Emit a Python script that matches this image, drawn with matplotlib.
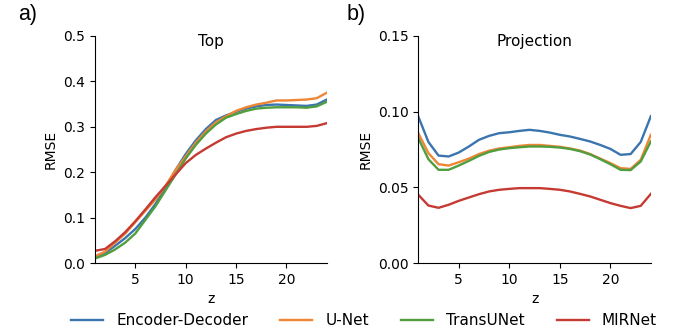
import matplotlib
matplotlib.use("Agg")
import matplotlib.pyplot as plt
import numpy as np

z = np.arange(1, 25)
models = ["Encoder-Decoder", "U-Net", "TransUNet", "MIRNet"]
colors = ["#3b75af", "#ef8636", "#519e3e", "#c53a32"]

# Top panel RMSE per z
top_enc = [0.012, 0.022, 0.038, 0.055, 0.075, 0.100, 0.130, 0.165, 0.205, 0.240, 0.270, 0.295,
           0.315, 0.325, 0.333, 0.340, 0.345, 0.348, 0.349, 0.348, 0.347, 0.346, 0.349, 0.360]
top_unet = [0.015, 0.025, 0.045, 0.065, 0.090, 0.115, 0.140, 0.170, 0.205, 0.235, 0.265, 0.290,
            0.310, 0.323, 0.335, 0.343, 0.349, 0.353, 0.358, 0.358, 0.359, 0.360, 0.363, 0.375]
top_trans = [0.010, 0.018, 0.030, 0.045, 0.065, 0.095, 0.125, 0.160, 0.195, 0.230, 0.260, 0.285,
             0.305, 0.320, 0.328, 0.335, 0.340, 0.342, 0.343, 0.343, 0.343, 0.342, 0.345, 0.355]
top_mir = [0.027, 0.031, 0.048, 0.068, 0.092, 0.118, 0.145, 0.170, 0.195, 0.220, 0.238, 0.252,
           0.265, 0.277, 0.285, 0.291, 0.295, 0.298, 0.300, 0.300, 0.300, 0.300, 0.302, 0.308]

# Projection panel RMSE per z
proj_enc = [0.0968, 0.080, 0.071, 0.0704, 0.073, 0.077, 0.0814, 0.084, 0.0858, 0.0864, 0.0873, 0.088,
            0.0873, 0.0862, 0.0847, 0.0836, 0.082, 0.0803, 0.078, 0.0754, 0.0715, 0.072, 0.080, 0.097]
proj_unet = [0.0858, 0.0726, 0.0653, 0.0644, 0.0666, 0.069, 0.072, 0.0742, 0.0757, 0.0765, 0.0774, 0.078,
             0.078, 0.0774, 0.0768, 0.0757, 0.0743, 0.072, 0.069, 0.066, 0.0627, 0.0622, 0.0682, 0.0847]
proj_trans = [0.0825, 0.0686, 0.0616, 0.0616, 0.0644, 0.0675, 0.0708, 0.0734, 0.075, 0.0759, 0.0765, 0.077,
              0.077, 0.0768, 0.0763, 0.0754, 0.0739, 0.0717, 0.0686, 0.0653, 0.0616, 0.0614, 0.0671, 0.0803]
proj_mir = [0.0451, 0.038, 0.0365, 0.0385, 0.0411, 0.0433, 0.0455, 0.0473, 0.0484, 0.049, 0.0495, 0.0495,
            0.0495, 0.049, 0.0484, 0.0473, 0.0457, 0.044, 0.0418, 0.0396, 0.0378, 0.0363, 0.0378, 0.0457]

fig = plt.figure(figsize=(6.88, 3.33), dpi=100)
ax1 = fig.add_axes([0.138, 0.21, 0.337, 0.682])
ax2 = fig.add_axes([0.608, 0.21, 0.338, 0.682])

for ax, series, ylim, yticks, title in [
        (ax1, [top_enc, top_unet, top_trans, top_mir], 0.5, np.arange(0, 0.51, 0.1), "Top"),
        (ax2, [proj_enc, proj_unet, proj_trans, proj_mir], 0.15, [0, 0.05, 0.10, 0.15], "Projection")]:
    for vals, name, c in zip(series, models, colors):
        ax.plot(z, vals, color=c, linewidth=1.7, label=name)
    ax.set_xlim(1, 24)
    ax.set_ylim(0, ylim)
    ax.set_xticks([5, 10, 15, 20])
    ax.set_yticks(yticks)
    ax.spines["top"].set_visible(False)
    ax.spines["right"].set_visible(False)
    ax.tick_params(labelsize=10, length=3.5)
    ax.set_xlabel("z", fontsize=10)
    ax.set_ylabel("RMSE", fontsize=10)
    ax.text(0.5, 0.975, title, transform=ax.transAxes, ha="center", va="center", fontsize=11)

ax1.set_yticklabels(["0.0", "0.1", "0.2", "0.3", "0.4", "0.5"])
ax2.set_yticklabels(["0.00", "0.05", "0.10", "0.15"])

fig.text(0.026, 0.955, "a)", fontsize=15.5, va="center", family="Liberation Sans")
fig.text(0.504, 0.955, "b)", fontsize=15.5, va="center", family="Liberation Sans")

handles, labels = ax1.get_legend_handles_labels()
fig.legend(handles, labels, loc="center", bbox_to_anchor=(0.529, 0.037), ncol=4,
           frameon=False, fontsize=11, handlelength=2.1, handletextpad=0.85,
           columnspacing=2.1)

fig.savefig("out.png", dpi=100)
